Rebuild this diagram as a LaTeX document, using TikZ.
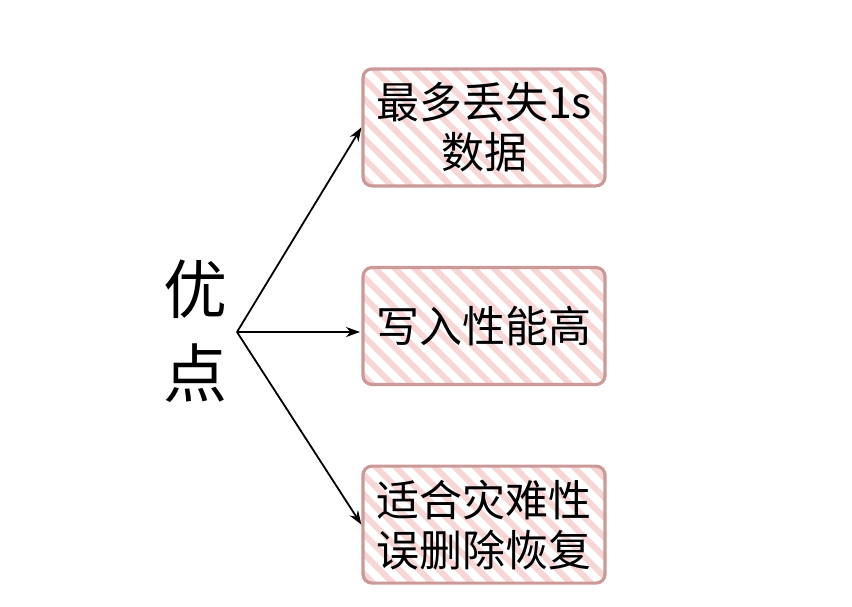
\documentclass[tikz,border=0pt]{standalone}
\usepackage{fontspec}
\setmainfont{Noto Sans CJK SC}
\usetikzlibrary{positioning,arrows.meta,patterns.meta,calc}
\definecolor{hatchpink}{HTML}{F7D6D6}
\definecolor{edgepink}{HTML}{CC9999}
\tikzset{prosbox/.style={draw=edgepink,line width=3.2pt,rounded corners=9pt,
  pattern={Lines[angle=-45,distance=14pt,line width=6pt]},pattern color=hatchpink,
  minimum width=242pt,minimum height=117pt,align=center,inner sep=2pt,
  font=\fontsize{43}{50}\selectfont},
  link/.style={line width=1.8pt,-{Stealth[length=14pt,width=10pt]}}}
\begin{document}
\begin{tikzpicture}[x=1pt,y=-1pt]
\useasboundingbox (0,0) rectangle (852,606);
\node[align=center,font=\fontsize{64}{84}\selectfont] (pros) at (195,331) {优\\点};
\coordinate (src) at (237,332);
\node[prosbox] (perf) at (484,326) {写入性能高};
\node[prosbox,above=77pt of perf] (loss) {最多丢失1s\\数据};
\node[prosbox,below=77pt of perf] (recov) {适合灾难性\\误删除恢复};
\draw[link] (src) -- (loss.west);
\draw[link] (src) -- (src -| perf.west);
\draw[link] (src) -- (recov.west);
\end{tikzpicture}
\end{document}
